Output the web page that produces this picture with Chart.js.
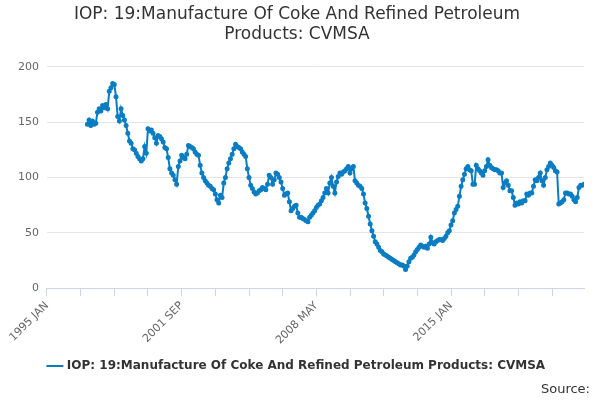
<!DOCTYPE html>
<html><head><meta charset="utf-8">
<script src="https://cdn.jsdelivr.net/npm/chart.js@4"></script>
<style>html,body{margin:0;padding:0;background:#fff}#w{position:relative;width:600px;height:400px}#src{position:absolute;right:10px;bottom:4px;font:13px "DejaVu Sans",sans-serif;color:#333}</style>
</head><body><div id="w"><canvas id="c" width="600" height="400"></canvas><div id="src">Source:</div></div>
<script>
const seriesName = "IOP: 19:Manufacture Of Coke And Refined Petroleum Products: CVMSA";
const axisStartYear = 1995;
const firstDataMonth = 24; // months after 1995 JAN (1997 JAN)
const monthNames = ["JAN","FEB","MAR","APR","MAY","JUN","JUL","AUG","SEP","OCT","NOV","DEC"];
const values = [
148,152,147,151,148,149,159,162,160,165,163,166,
162,178,181,185,184,173,155,151,162,156,152,147,
140,133,131,126,125,122,119,117,115,117,128,122,
144,142,143,140,136,131,138,137,135,132,127,126,
118,108,104,102,98,94,110,115,120,118,117,121,
129,128,127,126,123,121,120,111,104,100,97,95,
93,92,90,89,85,80,77,84,82,95,100,108,
113,117,121,126,130,128,127,126,123,121,119,108,
100,93,90,87,85,86,88,89,91,90,89,94,
102,100,94,98,104,103,100,96,90,84,85,86,
78,70,72,74,75,68,64,64,63,62,61,60,
64,66,68,70,73,75,76,79,82,86,90,86,
95,100,92,86,96,101,104,103,105,106,108,110,
104,108,110,97,95,93,92,90,85,77,72,65,
58,52,47,42,40,37,34,33,31,30,29,28,
27,26,25,24,23,22,21,21,20,17,20,24,
27,28,30,33,35,37,39,38,37,38,36,40,
46,41,40,42,43,44,44,43,45,47,50,52,
57,61,68,71,74,83,92,98,103,108,110,107,
106,94,94,111,108,106,104,102,106,110,116,111,
109,108,107,107,106,104,104,91,95,97,93,88,
88,82,75,77,76,78,77,79,79,85,84,86,
86,92,98,97,100,104,97,93,100,107,110,113,
111,109,106,105,76,77,78,80,86,86,85,85,
83,80,78,82,91,93,93,94
];
const yTicks = [0,50,100,150,200];
const pts = values.map((v,i)=>({x:firstDataMonth+i,y:v}));
const lastMonth = firstDataMonth+values.length-1;
const lbl = m => (axisStartYear+Math.floor(m/12))+" "+monthNames[m%12];
new Chart(document.getElementById('c'),{
 type:'line',
 data:{datasets:[{label:seriesName,data:pts,borderColor:'#0a7dc2',backgroundColor:'#0a7dc2',borderWidth:2,pointRadius:1.5,pointHoverRadius:2,tension:0}]},
 options:{responsive:false,animation:false,
  layout:{padding:{left:10,right:16,bottom:18,top:4}},
  plugins:{
   title:{display:true,text:["IOP: 19:Manufacture Of Coke And Refined Petroleum","Products: CVMSA"],color:'#333',font:{family:'DejaVu Sans',size:17,weight:'normal',lineHeight:1.2},padding:{bottom:22}},
   legend:{position:'bottom',labels:{usePointStyle:true,pointStyle:'line',color:'#333',font:{family:'DejaVu Sans',size:12,weight:'bold'}}}
  },
  scales:{
   x:{type:'linear',min:0,max:lastMonth,
      afterBuildTicks:ax=>{const t=[];for(let m=0;m<=lastMonth;m+=20)t.push({value:m});ax.ticks=t;},
      ticks:{autoSkip:false,maxRotation:45,minRotation:45,color:'#666',font:{family:'DejaVu Sans',size:11},
        callback:(v)=> (v%80===0||v===lastMonth)?lbl(v):''},
      grid:{drawOnChartArea:false,drawTicks:true,tickLength:8,color:'#ccd6eb'},border:{color:'#ccd6eb'}},
   y:{min:0,max:200,afterBuildTicks:ax=>{ax.ticks=yTicks.map(v=>({value:v}));},
      ticks:{color:'#666',font:{family:'DejaVu Sans',size:11},padding:8},
      grid:{color:'#e6e6e6',drawTicks:false},border:{display:false}}
  }
 }
});
</script></body></html>
